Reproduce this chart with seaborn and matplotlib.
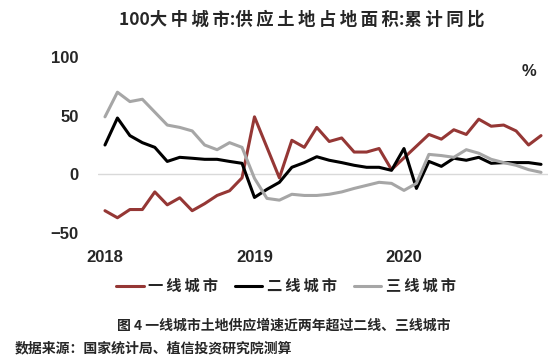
import numpy as np
import pandas as pd
import seaborn as sns
import matplotlib.pyplot as plt

# 数据（按月，2018-01 至 2020-12）
months = pd.date_range('2018-01', periods=36, freq='MS').strftime('%Y-%m').tolist()
tier1 = [-31, -37, -30, -30, -15, -26, -20, -31, -25, -18, -14, -3,
         49, 23, -3, 29, 23, 40, 28, 31, 19, 19, 22, 4,
         14, 24, 34, 30, 38, 34, 47, 41, 42, 37, 25, 33]
tier2 = [25, 48, 33, 27, 23, 11, 14.5, 13.7, 12.8, 12.8, 11, 9.4,
         -19.7, -12.8, -6.8, 6, 10, 15, 12, 10, 7.7, 6, 6, 3.4,
         22, -12, 11, 6.8, 13.7, 12, 14.5, 9.4, 10, 10, 10, 8.5]
tier3 = [49, 70, 62, 64, 53, 42, 40, 37, 25, 21, 27, 23,
         -3.4, -20.5, -22, -17, -18, -18, -17, -15, -12, -9.4, -6.8, -7.7,
         -13.7, -7.7, 17, 16, 14.5, 21, 18, 12.8, 10, 7.7, 4, 1.7]
series_names = ['一线城市', '二线城市', '三线城市']
year_labels = ['2018', '2019', '2020']

df = pd.DataFrame({'月份': months, '一线城市': tier1, '二线城市': tier2, '三线城市': tier3})
df['x'] = np.arange(len(df))
long_df = df.melt(id_vars=['月份', 'x'], value_vars=series_names, var_name='类别', value_name='同比')

sns.set_theme(style='white')
cjk_font = ['Noto Sans CJK SC', 'DejaVu Sans']
plt.rcParams['font.family'] = cjk_font
plt.rcParams['axes.unicode_minus'] = False
num_font = ['Liberation Sans Narrow', 'Liberation Sans', 'DejaVu Sans']


def spaced(s):
    # 原图中文字距较宽，用细空格拉开（只在两个汉字之间）
    out = ''
    for i, ch in enumerate(s):
        out += ch
        if i < len(s) - 1 and ord(ch) > 0x2e80 and ord(s[i + 1]) > 0x2e80:
            out += '\u2009'
    return out


fig = plt.figure(figsize=(5.57, 3.64), dpi=100)
ax = fig.add_axes([98 / 557, 1 - 233 / 364, 450 / 557, 176 / 364])

palette = {'一线城市': '#953735', '二线城市': '#000000', '三线城市': '#A6A6A6'}
sns.lineplot(data=long_df, x='x', y='同比', hue='类别', hue_order=series_names,
             palette=palette, linewidth=2.2, ax=ax, legend=False)

ax.axhline(0, color='#D9D9D9', linewidth=1, zorder=0)
ax.set_ylim(-50, 100)
ax.set_xlim(-0.56, 35.56)
ax.set_yticks([-50, 0, 50, 100])
ax.set_yticklabels(['\u221250', '0', '50', '100'], fontfamily=num_font, fontweight='bold', fontsize=12)
ax.set_xticks([0, 12, 24])
ax.set_xticklabels(year_labels, fontfamily=num_font, fontweight='bold', fontsize=12)
ax.tick_params(axis='y', length=0, pad=14)
ax.tick_params(axis='x', length=0, pad=12)
ax.set_xlabel('')
ax.set_ylabel('')
sns.despine(ax=ax, left=True, bottom=True)

fig.text(529 / 557, 1 - 72 / 364, '%', ha='center', va='center',
         fontfamily=num_font, fontweight='bold', fontsize=12)

# 标题
fig.text(302 / 557, 1 - 20 / 364, spaced('100大中城市:供应土地占地面积:累计同比'),
         ha='center', va='center', fontsize=12.5, fontweight='bold', family=cjk_font)

# 图例
handles = [plt.Line2D([], [], color=palette[n], linewidth=2.2) for n in series_names]
fig.legend(handles, [spaced(n) for n in series_names], loc='center',
           bbox_to_anchor=(286 / 557, 1 - 286 / 364),
           ncol=3, frameon=False, handlelength=1.8, handletextpad=0.3,
           columnspacing=1.1, prop={'family': cjk_font, 'weight': 'bold', 'size': 11})

fig.text(284 / 557, 1 - 326 / 364, '图 4 一线城市土地供应增速近两年超过二线、三线城市',
         ha='center', va='center', fontsize=10, fontweight='bold')
fig.text(15 / 557, 1 - 348 / 364, '数据来源：国家统计局、植信投资研究院测算',
         ha='left', va='center', fontsize=10, fontweight='bold')

fig.savefig('out.png', dpi=100)
